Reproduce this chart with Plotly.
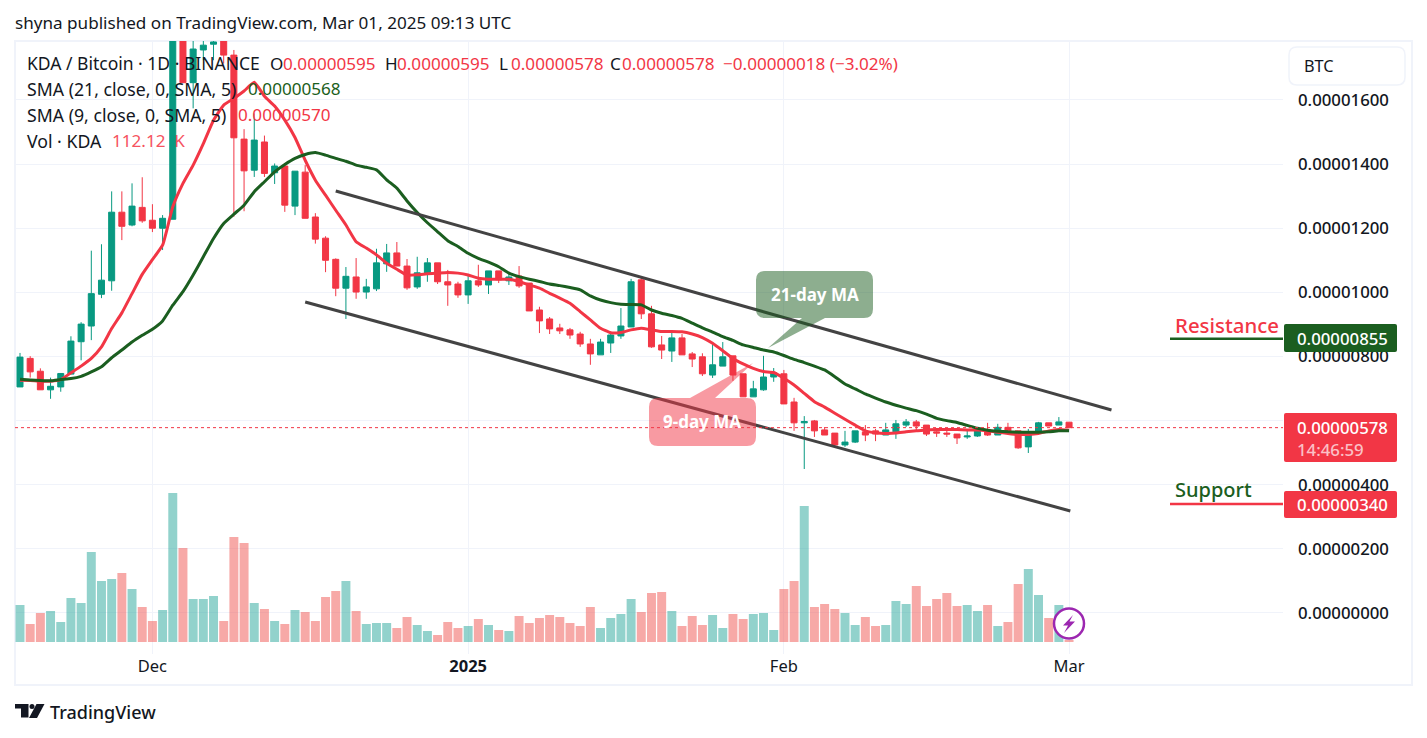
import pandas as pd
import plotly.graph_objects as go

# Prices are in units of 0.00000001 BTC, one entry per day from 2024-11-18 to 2025-03-01
first_day = "2024-11-18"
last_day = "2025-03-01"
open_ = [705,794,754,696,705,745,846,895,994,1036,1250,1210,1265,1225,1200,1228,1850,1654,1756,1774,1790,1740,1478,1381,1469,1373,1394,1269,1375,1235,1169,1103,1013,1048,
 1001,1011,1089,1123,1082,1017,1058,1092,1033,1026,992,1036,1023,1067,1036,1051,1029,945,917,889,883,870,839,805,842,864,892,1039,933,836,817,858,808,
 799,742,770,802,746,674,696,736,746,658,593,599,571,561,524,533,565,568,555,565,586,596,586,565,561,558,549,552,571,555,579,568,518,561,593,586,595]
high = [811,801,763,734,747,863,907,1130,1150,1315,1315,1340,1359,1275,1241,1860,1880,1790,1800,1800,1800,1756,1509,1558,1489,1402,1394,1378,1397,1247,1175,1106,1079,1107,
 1042,1136,1151,1157,1104,1111,1107,1092,1070,1033,1051,1086,1067,1067,1060,1082,1029,955,923,902,889,877,855,855,873,951,1042,1048,958,864,880,870,814,
 810,841,845,802,746,724,802,764,758,671,614,602,580,561,568,568,586,574,593,602,605,602,586,577,577,558,571,574,593,590,593,568,574,596,593,611,595]
low = [705,734,696,668,690,745,788,851,982,1005,1163,1206,1217,1188,1132,1228,1654,1574,1724,1724,1714,1236,1253,1360,1360,1338,1251,1241,1231,1152,1063,988,917,980,
 980,1004,1064,1082,1008,1011,1033,1026,958,983,964,1017,995,1029,1023,1014,942,873,870,870,855,830,774,805,811,855,892,917,827,792,783,805,767,
 739,733,770,724,674,674,693,721,652,568,449,549,555,518,518,530,536,536,555,543,580,568,552,549,549,527,543,549,552,555,558,512,499,561,583,586,578]
close = [798,752,696,707,747,848,901,996,1038,1250,1206,1269,1223,1200,1231,1850,1654,1759,1771,1781,1740,1482,1379,1475,1371,1394,1272,1378,1231,1166,1100,1013,1050,1001,
 1017,1092,1123,1082,1014,1061,1092,1033,1023,992,1036,1023,1067,1039,1048,1020,942,911,886,880,867,839,808,845,867,895,1033,933,830,820,858,805,792,
 746,774,799,742,674,699,736,749,652,593,597,568,555,524,533,568,555,558,571,590,596,583,558,561,558,546,552,568,555,579,561,515,565,593,583,596,578]
# Volume, read in bar-height units of about 18.7K KDA
volume = [111,54,87,93,60,132,117,270,183,189,207,159,105,63,96,447,282,129,129,138,63,315,297,117,99,63,54,96,90,63,135,153,183,93,
 54,57,57,42,75,51,33,21,60,42,48,69,51,36,33,78,57,72,81,75,57,48,105,42,72,84,129,90,147,150,93,48,78,
 51,81,42,84,69,84,87,36,159,183,408,105,114,99,87,51,75,48,51,123,114,168,108,129,147,108,111,93,111,48,60,174,219,141,72,111,6]
sma21 = [729,727,725,724,728,731,738,752,768,796,820,845,866,885,911,960,1002,1054,1111,1168,1215,1244,1272,1314,1345,1376,1399,1418,1430,1436,1428,1418,1409,1397,
 1390,1382,1351,1325,1285,1249,1217,1189,1161,1143,1122,1106,1094,1080,1060,1049,1041,1034,1026,1021,1015,1008,989,976,968,963,962,961,945,935,928,919,904,
 889,876,862,850,836,828,820,814,803,791,781,770,758,737,714,699,683,670,658,648,639,631,620,607,600,594,585,576,570,567,565,564,564,564,565,568,568]
sma9 = [726,725,723,723,728,749,770,794,830,887,936,996,1056,1102,1147,1267,1340,1397,1464,1537,1584,1605,1628,1655,1612,1581,1537,1483,1412,1350,1303,1256,1210,1158,
 1138,1117,1091,1072,1054,1055,1058,1060,1062,1060,1054,1044,1041,1041,1041,1034,1023,1013,997,982,966,940,914,888,874,875,883,888,883,878,878,877,870,
 859,841,818,794,777,763,753,750,732,711,685,659,642,623,604,586,568,562,560,561,565,568,571,572,572,572,571,571,568,564,560,557,557,560,568,572,570]
upper_channel_x = ["2024-12-19", "2025-03-05 04:00"]
upper_channel_y = [1316, 633]
lower_channel_x = ["2024-12-16", "2025-03-01 03:00"]
lower_channel_y = [970, 318]
resistance = 855
support = 340
last_price = 578
price_ticks = [0,200,400,600,800,1000,1200,1400,1600]
price_tick_labels = ["0.00000000","0.00000200","0.00000400","","0.00000800","0.00001000","0.00001200","0.00001400","0.00001600"]
time_ticks = ["2024-12-01","2025-01-01","2025-02-01","2025-03-01"]
time_tick_labels = ["Dec","<b>2025</b>","Feb","Mar"]

days = pd.date_range(first_day, last_day)
UP, DOWN = "#089981", "#f23645"
GREEN = "#1b5e20"
INK = "#131722"
FONT = "Noto Sans"
DAY_MS = 86400000

W, H = 1427, 738
L, R, T, B = 15, 1283, 41, 654
def px(x): return (x - L) / (R - L)
def py(y): return 1 - (y - T) / (B - T)

fig = go.Figure()
vol_colors = ["rgba(38,166,154,0.5)" if c >= o else "rgba(239,83,80,0.5)" for o, c in zip(open_, close)]
fig.add_trace(go.Bar(x=days, y=volume, marker=dict(color=vol_colors, line_width=0), width=DAY_MS * 0.88, yaxis="y", xaxis="x"))
fig.add_trace(go.Candlestick(x=days, open=open_, high=high, low=low, close=close, yaxis="y2", xaxis="x",
    increasing=dict(line=dict(color=UP, width=1), fillcolor=UP),
    decreasing=dict(line=dict(color=DOWN, width=1), fillcolor=DOWN),
    whiskerwidth=0))
fig.add_trace(go.Scatter(x=days, y=sma9, mode="lines", line=dict(color=DOWN, width=3, shape="spline", smoothing=0.4), yaxis="y2"))
fig.add_trace(go.Scatter(x=days, y=sma21, mode="lines", line=dict(color=GREEN, width=3, shape="spline", smoothing=0.4), yaxis="y2"))
fig.add_trace(go.Scatter(x=upper_channel_x, y=upper_channel_y, mode="lines", line=dict(color="#434343", width=3), yaxis="y2"))
fig.add_trace(go.Scatter(x=lower_channel_x, y=lower_channel_y, mode="lines", line=dict(color="#434343", width=3), yaxis="y2"))

shapes = []
def rect(x0, y0, x1, y1, fill=None, line=None, r=0, layer="above", lw=1):
    xs = lambda v: px(v); ys = lambda v: py(v)
    d = (f"M {xs(x0+r)} {ys(y0)} L {xs(x1-r)} {ys(y0)} Q {xs(x1)} {ys(y0)} {xs(x1)} {ys(y0+r)} "
         f"L {xs(x1)} {ys(y1-r)} Q {xs(x1)} {ys(y1)} {xs(x1-r)} {ys(y1)} "
         f"L {xs(x0+r)} {ys(y1)} Q {xs(x0)} {ys(y1)} {xs(x0)} {ys(y1-r)} "
         f"L {xs(x0)} {ys(y0+r)} Q {xs(x0)} {ys(y0)} {xs(x0+r)} {ys(y0)} Z")
    shapes.append(dict(type="path", xref="paper", yref="paper", path=d, fillcolor=fill or "rgba(0,0,0,0)",
                       line=dict(color=line or "rgba(0,0,0,0)", width=lw), layer=layer))

def poly(points, fill, layer="above", line=None, lw=0):
    d = "M " + " L ".join(f"{px(x)} {py(y)}" for x, y in points) + " Z"
    shapes.append(dict(type="path", xref="paper", yref="paper", path=d, fillcolor=fill,
                       line=dict(color=line or "rgba(0,0,0,0)", width=lw), layer=layer))

# Outer frame
BORDER = "#f0f3fa"
rect(15, 41, 1412, 685, line=BORDER, layer="below", lw=2)

# Last price dotted line
shapes.append(dict(type="line", xref="paper", yref="y2", x0=0, x1=1, y0=last_price, y1=last_price,
                   line=dict(color=DOWN, width=1, dash="dot"), layer="above"))

# Callouts
def callout(x0, y0, x1, y1, r, tail, fill):
    xs = px; ys = py
    (ax, bx), (tx, ty), side = tail
    d = (f"M {xs(x0+r)} {ys(y0)} L {xs(x1-r)} {ys(y0)} Q {xs(x1)} {ys(y0)} {xs(x1)} {ys(y0+r)} "
         f"L {xs(x1)} {ys(y1-r)} Q {xs(x1)} {ys(y1)} {xs(x1-r)} {ys(y1)} ")
    if side == "bottom":
        d += f"L {xs(bx)} {ys(y1)} L {xs(tx)} {ys(ty)} L {xs(ax)} {ys(y1)} "
    d += f"L {xs(x0+r)} {ys(y1)} Q {xs(x0)} {ys(y1)} {xs(x0)} {ys(y1-r)} L {xs(x0)} {ys(y0+r)} Q {xs(x0)} {ys(y0)} {xs(x0+r)} {ys(y0)} "
    if side == "top":
        d = (f"M {xs(x0+r)} {ys(y0)} L {xs(ax)} {ys(y0)} L {xs(tx)} {ys(ty)} L {xs(bx)} {ys(y0)} L {xs(x1-r)} {ys(y0)} "
             f"Q {xs(x1)} {ys(y0)} {xs(x1)} {ys(y0+r)} L {xs(x1)} {ys(y1-r)} Q {xs(x1)} {ys(y1)} {xs(x1-r)} {ys(y1)} "
             f"L {xs(x0+r)} {ys(y1)} Q {xs(x0)} {ys(y1)} {xs(x0)} {ys(y1-r)} L {xs(x0)} {ys(y0+r)} Q {xs(x0)} {ys(y0)} {xs(x0+r)} {ys(y0)} ")
    shapes.append(dict(type="path", xref="paper", yref="paper", path=d + "Z", fillcolor=fill,
                       line=dict(color="rgba(0,0,0,0)", width=0), layer="above"))
callout(756, 271, 873, 318, 9, ((802, 825), (768, 348), "bottom"), "rgba(27,94,32,0.5)")
callout(649, 398, 756, 446, 9, ((690, 715), (753, 363), "top"), "rgba(242,54,69,0.5)")

# Level lines
for level, col in ((resistance, GREEN), (support, DOWN)):
    shapes.append(dict(type="line", xref="paper", yref="y2", x0=px(1170), x1=1, y0=level, y1=level,
                       line=dict(color=col, width=2.5), layer="above"))

# Price tags, unit box
rect(1284, 324, 1397, 352, fill=GREEN, r=2)
rect(1284, 413, 1397, 462, fill=DOWN, r=2)
rect(1284, 491, 1397, 518, fill=DOWN, r=2)
rect(1289, 47, 1405, 85, fill="white", line="#f0f3fa", r=8, lw=1.5)

# Bolt badge
shapes.append(dict(type="circle", xref="paper", yref="paper", x0=px(1054), x1=px(1084), y0=py(638.5), y1=py(608.5),
                   fillcolor="white", line=dict(color="#9c27b0", width=2.5), layer="above"))
poly([(1073,615),(1063,625.5),(1068,625.5),(1064,633),(1075,621.5),(1069.5,621.5)], "#9c27b0")

# TradingView mark
poly([(15,704),(28.5,704),(28.5,717.5),(21,717.5),(21,708.5),(15,708.5)], "#131722")
shapes.append(dict(type="circle", xref="paper", yref="paper", x0=px(29.5), x1=px(34.5), y0=py(709), y1=py(704),
                   fillcolor="#131722", line=dict(width=0), layer="above"))
poly([(36.5,704),(44.5,704),(37,718),(29,718)], "#131722")

ann = []
def text(x, y, s, color=INK, size=17.1, anchor="left", weight=None):
    f = dict(family=FONT, color=color, size=size)
    if weight: f["weight"] = weight
    ann.append(dict(xref="paper", yref="paper", x=px(x), y=py(y), text=s, showarrow=False,
                    xanchor=anchor, yanchor="middle", font=f, borderpad=0, borderwidth=0))

text(15, 23, "shyna published on TradingView.com, Mar 01, 2025 09:13 UTC")
text(27, 63, "KDA / Bitcoin · 1D · BINANCE", size=17.5)
for x, s, c in ((270,"O",INK),(283,"0.00000595",DOWN),(385,"H",INK),(397,"0.00000595",DOWN),(499,"L",INK),(511,"0.00000578",DOWN),
                (610,"C",INK),(622,"0.00000578",DOWN),(723,"−0.00000018 (−3.02%)",DOWN)):
    text(x, 63, s, c)
text(27, 89, "SMA (21, close, 0, SMA, 5)", size=17.7)
text(248, 89, "0.00000568", GREEN)
text(27, 115, "SMA (9, close, 0, SMA, 5)", size=17.7)
text(238, 115, "0.00000570", DOWN)
text(27, 141, "Vol · KDA", size=17.7)
text(112, 141, "112.12\u00a0\u00a0K", "#f6535f")
text(1304, 66, "BTC", size=16.3)
text(1297, 338, "0.00000855", "white", size=16.8, weight=500)
text(1297, 427, "0.00000578", "white", size=16.8, weight=500)
text(1297, 449, "14:46:59", "#fbc0c6", size=16.8, weight=500)
text(1297, 504.5, "0.00000340", "white", size=16.8, weight=500)
text(1175, 325, "Resistance", DOWN, size=20.4, weight=500)
text(1175, 489, "Support", GREEN, size=20, weight=500)
text(815, 295, "21-day MA", "white", size=17, anchor="center", weight=700)
text(702, 421, "9-day MA", "white", size=17, anchor="center", weight=700)
text(49.5, 712, "TradingView", "#131722", size=18, weight=500)

rate = 10.185
span = pd.Timedelta(days=(R - 20) / rate)
left_edge = pd.Timestamp(first_day) - pd.Timedelta(days=5 / rate)
grid = "#f0f3fa"
fig.update_layout(
    width=W, height=H, margin=dict(l=L, r=W - R, t=T, b=H - B, autoexpand=False),
    paper_bgcolor="white", plot_bgcolor="white", showlegend=False, barmode="overlay", boxgap=0.41, boxgroupgap=0,
    font=dict(family=FONT, color=INK, size=16), shapes=shapes, annotations=ann,
    xaxis=dict(type="date", range=[left_edge, pd.Timestamp(first_day) + span], rangeslider=dict(visible=False),
               tickmode="array", tickvals=time_ticks, ticktext=time_tick_labels, showgrid=True, gridcolor=grid, gridwidth=1,
               zeroline=False, showline=False, ticks="", tickfont=dict(size=16.5, color=INK)),
    yaxis=dict(range=[-36, 1803], visible=False, showgrid=False, zeroline=False, fixedrange=True),
    yaxis2=dict(range=[-128, 1784], overlaying="y", side="right", tickmode="array", tickvals=price_ticks, ticktext=price_tick_labels,
                showgrid=True, gridcolor=grid, gridwidth=1, zeroline=False, showline=False, ticks="",
                ticklabelstandoff=14, tickfont=dict(size=16.8, color=INK, weight=500)),
)
fig.write_html("out.html", config=dict(displayModeBar=False),
               post_script="document.body.style.margin='0';document.body.style.overflow='hidden';")
